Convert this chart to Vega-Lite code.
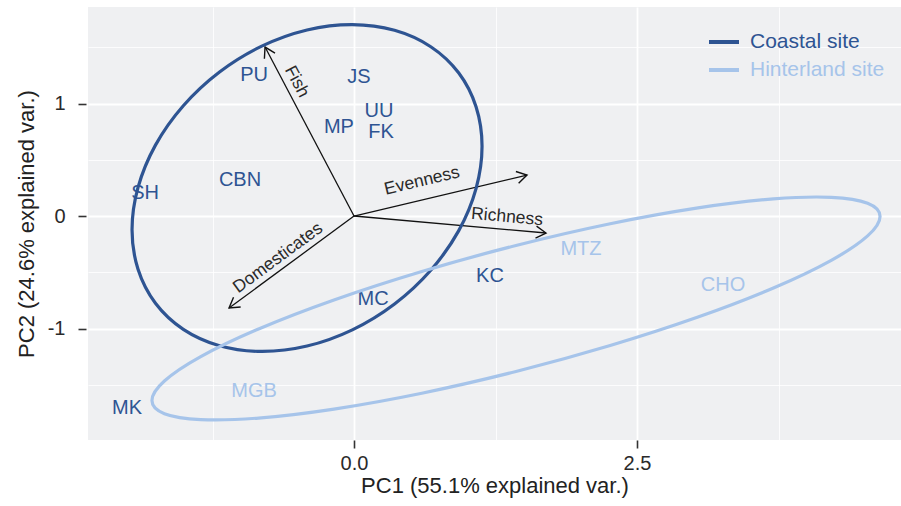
{
  "$schema": "https://vega.github.io/schema/vega-lite/v6.json",
  "width": 813,
  "height": 433,
  "autosize": {"type": "none"},
  "padding": {"left": 88, "top": 7, "right": 0, "bottom": 66},
  "background": "white",
  "config": {
    "view": {"fill": "#eff0f2", "stroke": null},
    "font": "Liberation Sans",
    "legend": {
      "title": null,
      "orient": "none",
      "legendX": 619,
      "legendY": 21,
      "symbolType": "stroke",
      "symbolSize": 900,
      "symbolStrokeWidth": 4,
      "labelFontSize": 21,
      "labelFont": "Liberation Sans",
      "labelOffset": 9,
      "clipHeight": 28,
      "rowPadding": 0,
      "padding": 0
    }
  },
  "datasets": {
    "sites": [
      {"label": "PU", "PC1": -0.883, "PC2": 1.253, "group": "Coastal site"},
      {"label": "JS", "PC1": 0.044, "PC2": 1.236, "group": "Coastal site"},
      {"label": "UU", "PC1": 0.221, "PC2": 0.93, "group": "Coastal site"},
      {"label": "FK", "PC1": 0.239, "PC2": 0.745, "group": "Coastal site"},
      {"label": "MP", "PC1": -0.133, "PC2": 0.791, "group": "Coastal site"},
      {"label": "CBN", "PC1": -1.007, "PC2": 0.32, "group": "Coastal site"},
      {"label": "SH", "PC1": -1.846, "PC2": 0.204, "group": "Coastal site"},
      {"label": "MC", "PC1": 0.168, "PC2": -0.738, "group": "Coastal site"},
      {"label": "KC", "PC1": 1.201, "PC2": -0.533, "group": "Coastal site"},
      {"label": "MK", "PC1": -2.005, "PC2": -1.707, "group": "Coastal site"},
      {"label": "MTZ", "PC1": 2.005, "PC2": -0.293, "group": "Hinterland site"},
      {"label": "CHO", "PC1": 3.26, "PC2": -0.613, "group": "Hinterland site"},
      {"label": "MGB", "PC1": -0.883, "PC2": -1.556, "group": "Hinterland site"}
    ],
    "arrows": [
      {"var": "Fish", "PC1": -0.786, "PC2": 1.502, "headAngle": -117.8},
      {"var": "Evenness", "PC1": 1.528, "PC2": 0.364, "headAngle": -13.3},
      {"var": "Richness", "PC1": 1.696, "PC2": -0.151, "headAngle": 5.1},
      {"var": "Domesticates", "PC1": -1.104, "PC2": -0.818, "headAngle": 143.6}
    ],
    "varlabels": [
      {"var": "Fish", "PC1": -0.506, "PC2": 1.194, "textAngle": 62.2},
      {"var": "Evenness", "PC1": 0.601, "PC2": 0.311, "textAngle": -13.3},
      {"var": "Richness", "PC1": 1.352, "PC2": -0.009, "textAngle": 5.1},
      {"var": "Domesticates", "PC1": -0.671, "PC2": -0.373, "textAngle": -36.4}
    ],
    "ellipses": [
      {"group": "Coastal site", "i": 0, "PC1": 1.131, "PC2": 0.62},
      {"group": "Coastal site", "i": 1, "PC1": 1.078, "PC2": 0.244},
      {"group": "Coastal site", "i": 2, "PC1": 0.924, "PC2": -0.132},
      {"group": "Coastal site", "i": 3, "PC1": 0.678, "PC2": -0.482},
      {"group": "Coastal site", "i": 4, "PC1": 0.358, "PC2": -0.782},
      {"group": "Coastal site", "i": 5, "PC1": -0.015, "PC2": -1.012},
      {"group": "Coastal site", "i": 6, "PC1": -0.415, "PC2": -1.156},
      {"group": "Coastal site", "i": 7, "PC1": -0.815, "PC2": -1.204},
      {"group": "Coastal site", "i": 8, "PC1": -1.188, "PC2": -1.153},
      {"group": "Coastal site", "i": 9, "PC1": -1.508, "PC2": -1.007},
      {"group": "Coastal site", "i": 10, "PC1": -1.754, "PC2": -0.775},
      {"group": "Coastal site", "i": 11, "PC1": -1.908, "PC2": -0.473},
      {"group": "Coastal site", "i": 12, "PC1": -1.961, "PC2": -0.122},
      {"group": "Coastal site", "i": 13, "PC1": -1.908, "PC2": 0.254},
      {"group": "Coastal site", "i": 14, "PC1": -1.754, "PC2": 0.63},
      {"group": "Coastal site", "i": 15, "PC1": -1.508, "PC2": 0.98},
      {"group": "Coastal site", "i": 16, "PC1": -1.188, "PC2": 1.28},
      {"group": "Coastal site", "i": 17, "PC1": -0.815, "PC2": 1.51},
      {"group": "Coastal site", "i": 18, "PC1": -0.415, "PC2": 1.654},
      {"group": "Coastal site", "i": 19, "PC1": -0.015, "PC2": 1.702},
      {"group": "Coastal site", "i": 20, "PC1": 0.358, "PC2": 1.651},
      {"group": "Coastal site", "i": 21, "PC1": 0.678, "PC2": 1.505},
      {"group": "Coastal site", "i": 22, "PC1": 0.924, "PC2": 1.273},
      {"group": "Coastal site", "i": 23, "PC1": 1.078, "PC2": 0.971},
      {"group": "Hinterland site", "i": 0, "PC1": 4.647, "PC2": -0.004},
      {"group": "Hinterland site", "i": 1, "PC1": 4.537, "PC2": 0.113},
      {"group": "Hinterland site", "i": 2, "PC1": 4.216, "PC2": 0.166},
      {"group": "Hinterland site", "i": 3, "PC1": 3.705, "PC2": 0.152},
      {"group": "Hinterland site", "i": 4, "PC1": 3.039, "PC2": 0.072},
      {"group": "Hinterland site", "i": 5, "PC1": 2.263, "PC2": -0.069},
      {"group": "Hinterland site", "i": 6, "PC1": 1.431, "PC2": -0.262},
      {"group": "Hinterland site", "i": 7, "PC1": 0.599, "PC2": -0.493},
      {"group": "Hinterland site", "i": 8, "PC1": -0.177, "PC2": -0.746},
      {"group": "Hinterland site", "i": 9, "PC1": -0.843, "PC2": -1.004},
      {"group": "Hinterland site", "i": 10, "PC1": -1.354, "PC2": -1.25},
      {"group": "Hinterland site", "i": 11, "PC1": -1.675, "PC2": -1.467},
      {"group": "Hinterland site", "i": 12, "PC1": -1.785, "PC2": -1.64},
      {"group": "Hinterland site", "i": 13, "PC1": -1.675, "PC2": -1.757},
      {"group": "Hinterland site", "i": 14, "PC1": -1.354, "PC2": -1.81},
      {"group": "Hinterland site", "i": 15, "PC1": -0.843, "PC2": -1.796},
      {"group": "Hinterland site", "i": 16, "PC1": -0.177, "PC2": -1.716},
      {"group": "Hinterland site", "i": 17, "PC1": 0.599, "PC2": -1.575},
      {"group": "Hinterland site", "i": 18, "PC1": 1.431, "PC2": -1.382},
      {"group": "Hinterland site", "i": 19, "PC1": 2.263, "PC2": -1.151},
      {"group": "Hinterland site", "i": 20, "PC1": 3.039, "PC2": -0.898},
      {"group": "Hinterland site", "i": 21, "PC1": 3.705, "PC2": -0.64},
      {"group": "Hinterland site", "i": 22, "PC1": 4.216, "PC2": -0.394},
      {"group": "Hinterland site", "i": 23, "PC1": 4.537, "PC2": -0.177}
    ]
  },
  "encoding": {
    "x": {
      "field": "PC1",
      "type": "quantitative",
      "scale": {"domain": [-2.35, 4.832], "nice": false, "zero": false},
      "axis": {
        "values": [-1.25, 0, 1.25, 2.5, 3.75],
        "labelExpr": "datum.value === 0 ? '0.0' : (datum.value === 2.5 ? '2.5' : '')",
        "labelOverlap": false,
        "domain": false,
        "grid": true,
        "gridColor": "white",
        "gridWidth": {"condition": {"test": "datum.value === 0 || datum.value === 2.5", "value": 1.8}, "value": 0.8},
        "tickOpacity": {"condition": {"test": "datum.value === 0 || datum.value === 2.5", "value": 1}, "value": 0},
        "tickColor": "#333333",
        "tickWidth": 1.6,
        "tickSize": 8,
        "labelFontSize": 20,
        "labelColor": "#2a2a2a",
        "labelPadding": 5,
        "labelFont": "Liberation Sans",
        "title": "PC1 (55.1% explained var.)",
        "titleFont": "Liberation Sans",
        "titleFontSize": 22,
        "titleFontWeight": "normal",
        "titleColor": "#222222",
        "titlePadding": 2
      }
    },
    "y": {
      "field": "PC2",
      "type": "quantitative",
      "scale": {"domain": [-1.991, 1.858], "nice": false, "zero": false},
      "axis": {
        "values": [-1.5, -1, -0.5, 0, 0.5, 1, 1.5],
        "labelExpr": "datum.value % 1 === 0 ? toString(datum.value) : ''",
        "labelOverlap": false,
        "domain": false,
        "grid": true,
        "gridColor": "white",
        "gridWidth": {"condition": {"test": "datum.value % 1 === 0", "value": 1.8}, "value": 0.8},
        "tickOpacity": {"condition": {"test": "datum.value % 1 === 0", "value": 1}, "value": 0},
        "tickColor": "#333333",
        "tickWidth": 1.6,
        "tickSize": 8,
        "offset": 2,
        "labelFontSize": 20,
        "labelColor": "#2a2a2a",
        "labelPadding": 13,
        "labelFont": "Liberation Sans",
        "title": "PC2 (24.6% explained var.)",
        "titleFont": "Liberation Sans",
        "titleFontSize": 22,
        "titleFontWeight": "normal",
        "titleColor": "#222222",
        "titlePadding": 9
      }
    }
  },
  "layer": [
    {
      "data": {"name": "arrows"},
      "mark": {"type": "rule", "color": "#111111", "strokeWidth": 1.3},
      "encoding": {"x2": {"datum": 0}, "y2": {"datum": 0}}
    },
    {
      "data": {"name": "arrows"},
      "mark": {"type": "point", "shape": "M-1,-0.6L0,0L-1,0.6", "filled": false, "stroke": "#111111", "strokeWidth": 1.4, "size": 400, "opacity": 1},
      "encoding": {"angle": {"field": "headAngle", "type": "quantitative", "scale": null}}
    },
    {
      "data": {"name": "sites"},
      "mark": {"type": "text", "fontSize": 20, "align": "center", "baseline": "middle", "font": "Liberation Sans"},
      "encoding": {
        "text": {"field": "label"},
        "color": {
          "field": "group",
          "type": "nominal",
          "scale": {"domain": ["Coastal site", "Hinterland site"], "range": ["#2e5492", "#a6c4ea"]},
          "legend": {"encode": {"labels": {"update": {"fill": {"scale": "color", "field": "value"}}}}}
        }
      }
    },
    {
      "data": {"name": "ellipses"},
      "mark": {"type": "line", "interpolate": "cardinal-closed", "strokeWidth": 3.2},
      "encoding": {
        "order": {"field": "i", "type": "quantitative"},
        "color": {
          "field": "group",
          "type": "nominal",
          "scale": {"domain": ["Coastal site", "Hinterland site"], "range": ["#2e5492", "#a6c4ea"]},
          "legend": {"encode": {"labels": {"update": {"fill": {"scale": "color", "field": "value"}}}}}
        }
      }
    },
    {
      "data": {"name": "varlabels"},
      "mark": {"type": "text", "fontSize": 17.5, "align": "center", "baseline": "middle", "color": "#2a2a2a", "font": "Liberation Sans"},
      "encoding": {
        "text": {"field": "var"},
        "angle": {"field": "textAngle", "type": "quantitative", "scale": null}
      }
    }
  ]
}
